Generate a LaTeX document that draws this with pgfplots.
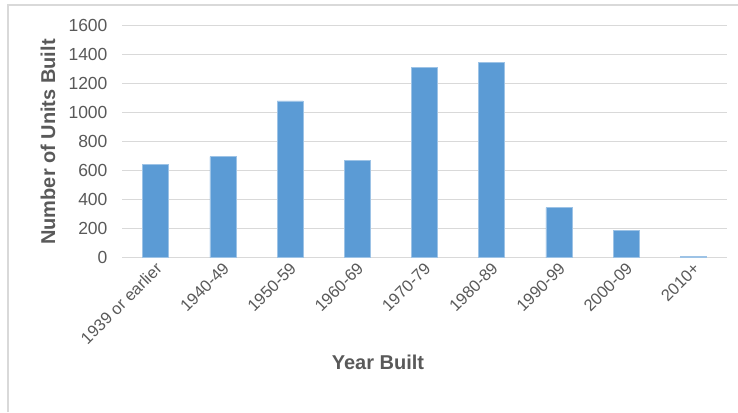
\documentclass[border=0pt]{standalone}
\usepackage{fontspec}
\setmainfont{Liberation Sans}
\usepackage{pgfplots}
\pgfplotsset{compat=1.18}
\definecolor{barblue}{HTML}{5B9BD5}
\definecolor{txtgray}{HTML}{595959}
\definecolor{gridgray}{HTML}{D9D9D9}
\begin{document}
\begin{tikzpicture}[x=1pt,y=1pt]
\path[use as bounding box] (0,0) rectangle (738,412);
\draw[gridgray, line width=1.5pt] (8,0) -- (8,407) -- (738,407);
\begin{axis}[
  at={(122pt,154.3pt)}, anchor=south west,
  scale only axis, width=605pt, height=232pt,
  xmin=-0.5, xmax=8.5, ymin=0, ymax=1600,
  ytick={0,200,...,1600},
  xtick={0,...,8},
  xticklabels={1939 or earlier,1940-49,1950-59,1960-69,1970-79,1980-89,1990-99,2000-09,2010+},
  ybar, bar width=26pt,
  axis line style={draw=none},
  tick style={draw=none},
  ymajorgrids, grid style={gridgray, line width=1.2pt},
  /pgf/number format/assume math mode=true,
  /pgf/number format/1000 sep={},
  yticklabel style={font=\fontsize{17.5}{20}\selectfont, text=txtgray, xshift=-11pt},
  xticklabel style={font=\fontsize{16.5}{19}\selectfont, text=txtgray, rotate=45, anchor=east, xshift=3pt, yshift=-5pt},
]
\addplot[fill=barblue, draw=barblue!60!white, line width=0.6pt] coordinates {
(0,644) (1,697) (2,1081) (3,672) (4,1313) (5,1348) (6,345) (7,189) (8,10)};
\end{axis}
\node[text=txtgray, font=\fontsize{20}{24}\selectfont\bfseries] at (378,50) {Year Built};
\node[text=txtgray, font=\fontsize{20}{24}\selectfont\bfseries, rotate=90] at (48,270) {Number of Units Built};
\end{tikzpicture}
\end{document}
